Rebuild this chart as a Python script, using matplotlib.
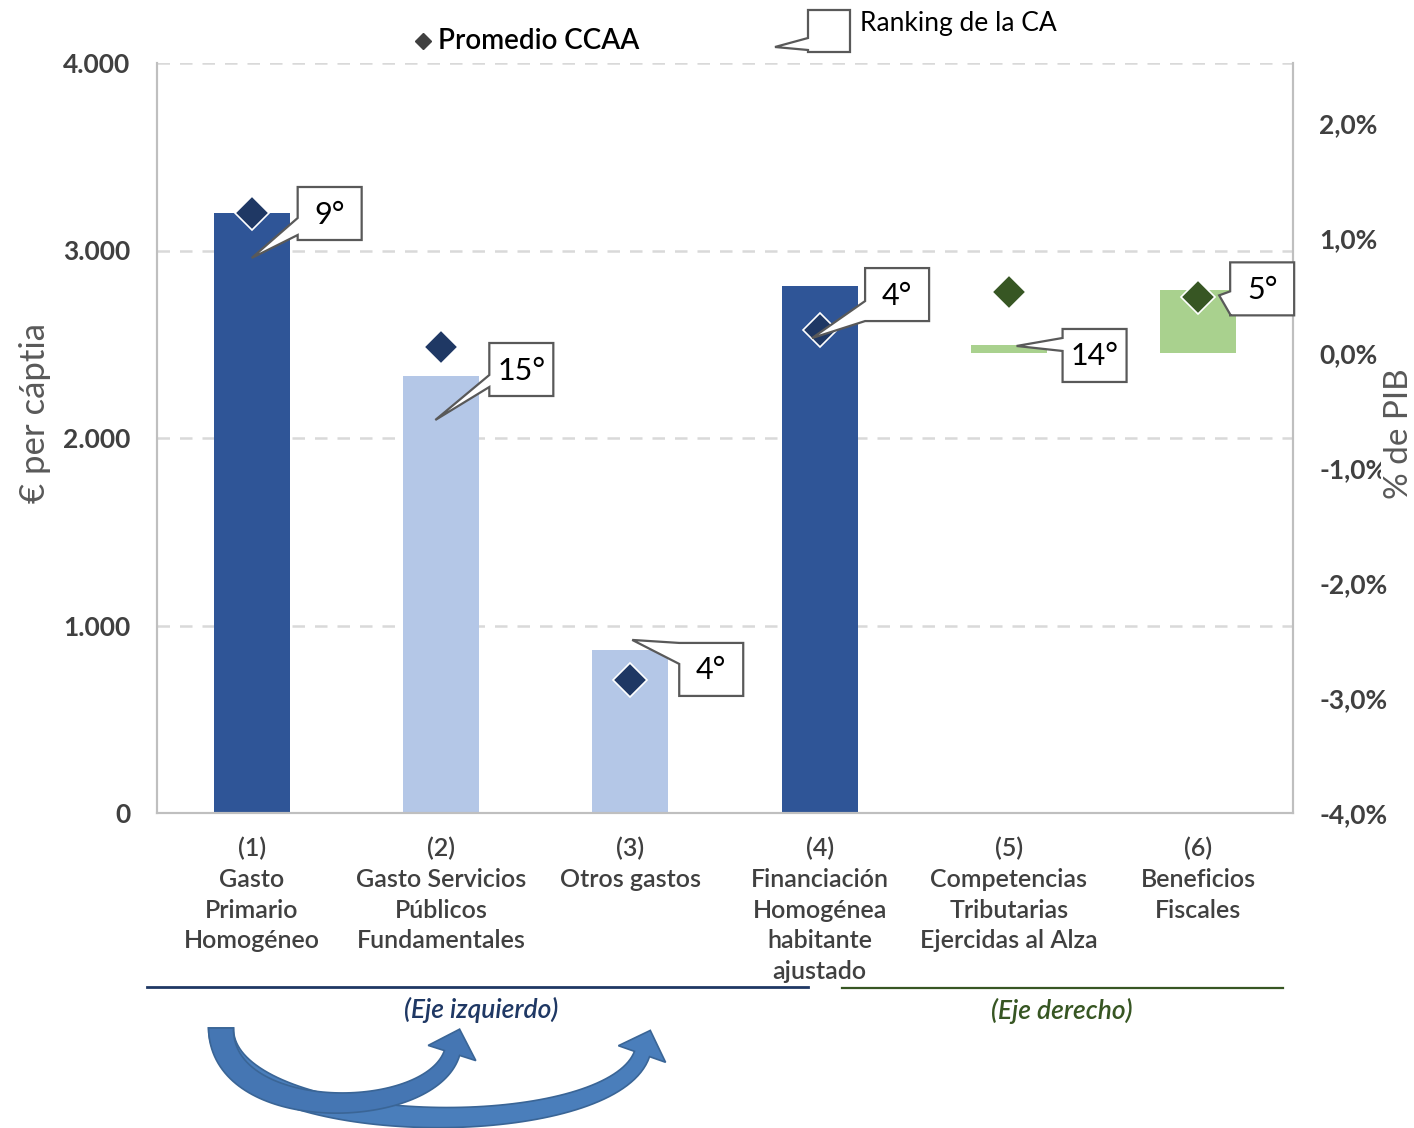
import numpy as np
import matplotlib.pyplot as plt
from matplotlib.patches import Polygon

plt.rcParams['font.family'] = ['Lato', 'DejaVu Sans']

# ---- data ----
categories = ["(1)\nGasto\nPrimario\nHomogéneo",
              "(2)\nGasto Servicios\nPúblicos\nFundamentales",
              "(3)\nOtros gastos",
              "(4)\nFinanciación\nHomogénea\nhabitante\najustado",
              "(5)\nCompetencias\nTributarias\nEjercidas al Alza",
              "(6)\nBeneficios\nFiscales"]
left_values = [3200, 2330, 870, 2810]          # € per cápita, bars 1-4
left_avg = [3200, 2485, 710, 2575]             # promedio CCAA
right_values = [0.07, 0.55]                    # % PIB, bars 5-6
right_avg = [0.53, 0.49]
ranking = ["9°", "15°", "4°", "4°", "14°", "5°"]
left_ticks = [0, 1000, 2000, 3000, 4000]
right_ticks = [-4, -3, -2, -1, 0, 1, 2]

DARK = "#2F5597"
LIGHT = "#B4C7E7"
GREEN = "#A9D18E"
NAVY = "#1F3864"
DKGREEN = "#375623"
TXT = "#404040"

W, H = 1414, 1128
fig = plt.figure(figsize=(W / 100, H / 100), dpi=100)
ax = fig.add_axes([157 / W, (H - 813) / H, 1136 / W, 750 / H])
ax2 = ax.twinx()

x = np.arange(len(categories))
bar_colors = [DARK, LIGHT, LIGHT, DARK]
ax.bar(x[:4], left_values, width=0.4, color=bar_colors, zorder=2)
ax.plot(x[:4], left_avg, ls="none", marker="D", ms=17, mfc=NAVY, mec="white",
        mew=1.2, zorder=4)
ax2.bar(x[4:], right_values, width=0.4, color=GREEN, zorder=2)
ax2.plot(x[4:], right_avg, ls="none", marker="D", ms=17, mfc=DKGREEN, mec="white",
         mew=1.2, zorder=4)

ax.set_xlim(-0.5, 5.5)
ax.set_ylim(0, 4000)
ax2.set_ylim(-4, 2.52)
ax.set_yticks(left_ticks)
ax.set_yticklabels([f"{v:,}".replace(",", ".") for v in left_ticks])
ax2.set_yticks(right_ticks)
ax2.set_yticklabels([f"{v:.1f}%".replace(".", ",") for v in right_ticks])
ax.yaxis.grid(True, ls=(0, (5, 4)), color="#D9D9D9", lw=1.8, zorder=0)
ax.set_axisbelow(True)
ax.set_xticks(x)
ax.set_xticklabels(categories, fontsize=18, color=TXT, weight="semibold",
                   linespacing=1.41, va="top")
ax.tick_params(axis="x", length=0, pad=17)
ax.tick_params(axis="y", length=0, pad=19, labelsize=19, labelcolor=TXT)
ax2.tick_params(axis="y", length=0, pad=19, labelsize=19, labelcolor=TXT)
for lab in ax.get_yticklabels() + ax2.get_yticklabels():
    lab.set_fontweight("bold")
for a in (ax, ax2):
    for s in ("left", "right", "bottom"):
        a.spines[s].set_color("#BFBFBF")
        a.spines[s].set_linewidth(1.5)
    a.spines["top"].set_visible(False)

# ---- overlay in image pixels (y down) ----
ov = fig.add_axes([0, 0, 1, 1])
ov.set_xlim(0, W)
ov.set_ylim(H, 0)
ov.axis("off")
ov.patch.set_alpha(0)

fig.canvas.draw()


def to_px(a, xv, yv):
    dx, dy = a.transData.transform((xv, yv))
    return dx, H - dy


def callout(tip, box, wedge, text, fs=22):
    # box: (left, top, w, h); wedge: (y0, y1) offsets along left edge
    l, t, w, h = box
    tx, ty = tip
    pts = [(l, t), (l + w, t), (l + w, t + h), (l, t + h),
           (l, t + wedge[1]), (tx, ty), (l, t + wedge[0])]
    ov.add_patch(Polygon(pts, closed=True, fc="white", ec="#595959", lw=1.6,
                         joinstyle="miter", zorder=5))
    ov.text(l + w / 2, t + h / 2 + 1, text, ha="center", va="center",
            fontsize=fs, color="black", zorder=6)


# tip anchors (axis, x, y) and box offsets from tip in px
tips = [(ax, 0.0, 2960), (ax, -0.03 + 1, 2096), (ax, 2.01, 923),
        (ax, 2.96, 2533), (ax2, 4.04, 0.06), (ax2, 5.11, 0.5)]
offsets = [(46, -71, (31, 48)), (54, -77, (32, 44)), (47, 3, (0, 21)),
           (53, -70, (33, 53)), (46, -17, (9, 22)), (11, -33, (29, 52))]
for (a, xv, yv), (dx, dy, wg), r in zip(tips, offsets, ranking):
    px, py = to_px(a, xv, yv)
    callout((px, py), (px + dx, py + dy, 64, 53), wg, r)

# legend
ov.plot([423], [41], marker="D", ms=8, color=TXT, ls="none")
ov.text(438, 41, "Promedio CCAA", fontsize=20, weight="semibold", color="black",
        va="center", ha="left")
callout((775, 47), (808, 10, 42, 42), (28, 40), "")
ov.text(860, 23, "Ranking de la CA", fontsize=19, color="black",
        va="center", ha="left")

# axis titles
ov.text(35, 413, "€ per cáptia", rotation=90, fontsize=25, color="#595959",
        ha="center", va="center")
ov.text(1399, 434, "% de PIB", rotation=90, fontsize=24, color="#595959",
        ha="center", va="center",
        bbox=dict(fc="white", ec="none", pad=2))

# group lines
ov.plot([147, 808], [987, 987], color=NAVY, lw=2)
ov.plot([842, 1283], [988, 988], color=DKGREEN, lw=1.6)
ov.text(481, 1010, "(Eje izquierdo)", fontsize=19, style="italic", weight="semibold",
        color=NAVY, ha="center", va="center")
ov.text(1062, 1011, "(Eje derecho)", fontsize=19, style="italic", weight="semibold",
        color=DKGREEN, ha="center", va="center")


def curved_arrow(p0, p1, p2, p3, w0, w1, hw, hl, fc, ec):
    t = np.linspace(0, 1, 80)[:, None]
    P = [np.array(p, float) for p in (p0, p1, p2, p3)]
    c = ((1 - t) ** 3) * P[0] + 3 * ((1 - t) ** 2) * t * P[1] \
        + 3 * (1 - t) * t ** 2 * P[2] + t ** 3 * P[3]
    d = 3 * ((1 - t) ** 2) * (P[1] - P[0]) + 6 * (1 - t) * t * (P[2] - P[1]) \
        + 3 * t ** 2 * (P[3] - P[2])
    d = d / np.linalg.norm(d, axis=1)[:, None]
    n = np.column_stack([-d[:, 1], d[:, 0]])
    w = (w0 + (w1 - w0) * t) / 2
    left = c + n * w
    right = c - n * w
    end, de, ne = c[-1], d[-1], n[-1]
    tip = end + de * hl
    pts = np.vstack([left, [end + ne * hw / 2], [tip], [end - ne * hw / 2],
                     right[::-1]])
    ov.add_patch(Polygon(pts, closed=True, fc=fc, ec=ec, lw=1.2, zorder=3))


curved_arrow((221, 1028), (221, 1140), (610, 1145), (642, 1054), 25, 16, 50, 25,
             "#4A7EBB", "#3A6596")
curved_arrow((221, 1028), (221, 1125), (430, 1122), (452, 1053), 25, 16, 50, 25,
             "#4576B3", "#3A6596")

fig.savefig("out.png", dpi=100)
